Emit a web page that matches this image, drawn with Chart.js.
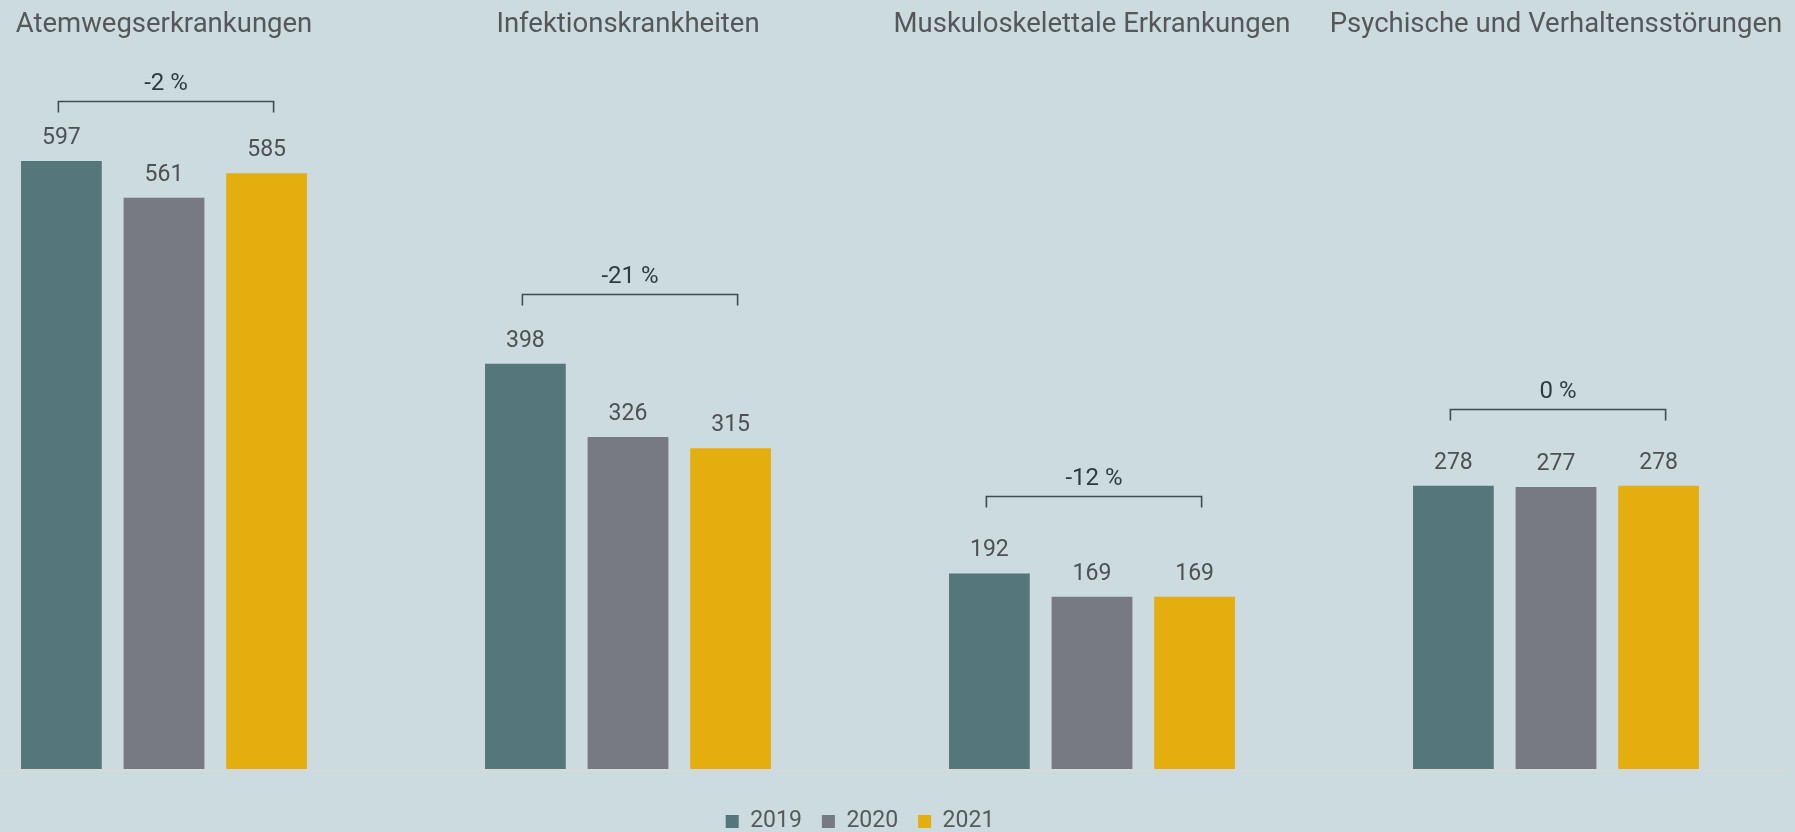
<!DOCTYPE html>
<html>
<head>
<meta charset="utf-8">
<title>Erkrankungen 2019-2021</title>
<script src="https://cdn.jsdelivr.net/npm/chart.js@4.4.0/dist/chart.umd.min.js"></script>
<style>
    html, body { margin: 0; padding: 0; background: #cbdbdf; }
    #chart-wrap { width: 1795px; height: 832px; }
</style>
</head>
<body>
<div id="chart-wrap"><canvas id="chart-diseases" width="1795" height="832"></canvas></div>
<script>
//------------------------------------------------ DATA ------------------------------------------------
const categories = ['Atemwegserkrankungen', 'Infektionskrankheiten', 'Muskuloskelettale Erkrankungen', 'Psychische und Verhaltensstörungen'];
const years = ['2019', '2020', '2021'];
const values_2019 = [597, 398, 192, 278];
const values_2020 = [561, 326, 169, 277];
const values_2021 = [585, 315, 169, 278];
const change_labels = ['-2 %', '-21 %', '-12 %', '0 %'];
const bracket_levels = [656, 466, 268, 353];   // value height of the bracket above each group
const bar_colors = ['#55767b', '#787a83', '#e3ae0e'];

Chart.defaults.font.family = 'Roboto';

//------------------------------------------- LABELS + BRACKETS -------------------------------------------
const annotatePlugin = {
    id: 'annotate',
    beforeDatasetsDraw(chart) {
        // thin light baseline over the whole width
        const ctx = chart.ctx;
        const y0 = chart.scales.y.getPixelForValue(0);
        ctx.save();
        ctx.strokeStyle = '#d6d8d9';
        ctx.lineWidth = 2;
        ctx.beginPath();
        ctx.moveTo(0, y0 + 1);
        ctx.lineTo(chart.width - 7, y0 + 1);
        ctx.stroke();
        ctx.restore();
    },
    afterDatasetsDraw(chart) {
        const ctx = chart.ctx;
        const yScale = chart.scales.y;
        ctx.save();

        // value labels above bars
        ctx.font = '23px Roboto';
        ctx.fillStyle = '#4f5051';
        ctx.textAlign = 'center';
        ctx.textBaseline = 'alphabetic';
        chart.data.datasets.forEach(function (ds, i) {
            const meta = chart.getDatasetMeta(i);
            meta.data.forEach(function (bar, j) {
                ctx.fillText(ds.data[j], bar.x, bar.y - 17);
            });
        });

        // brackets with change in percent
        const first = chart.getDatasetMeta(0).data;
        const last = chart.getDatasetMeta(2).data;
        ctx.strokeStyle = '#3d4e51';
        ctx.lineWidth = 1.6;
        ctx.fillStyle = '#2e3c3e';
        ctx.font = '24px Roboto';
        for (let j = 0; j < categories.length; j++) {
            const left = first[j].x - 3;
            const right = last[j].x + 7;
            const y = Math.round(yScale.getPixelForValue(bracket_levels[j])) + 0.5;
            ctx.beginPath();
            ctx.moveTo(left, y + 11);
            ctx.lineTo(left, y);
            ctx.lineTo(right, y);
            ctx.lineTo(right, y + 11);
            ctx.stroke();
            ctx.fillText(change_labels[j], (left + right) / 2, y - 12);
        }
        ctx.restore();
    }
};

//------------------------------------------------ CHART ------------------------------------------------
var diseases = document.getElementById('chart-diseases').getContext('2d');
var chart_diseases = new Chart(diseases, {
    type: 'bar',
    data: {
        labels: categories,
        datasets: [
            { label: years[0], data: values_2019, backgroundColor: bar_colors[0], borderWidth: 0, clip: false },
            { label: years[1], data: values_2020, backgroundColor: bar_colors[1], borderWidth: 0, clip: false },
            { label: years[2], data: values_2021, backgroundColor: bar_colors[2], borderWidth: 0, clip: false }
        ]
    },
    options: {
        responsive: false,
        animation: false,
        categoryPercentage: 0.6634,
        barPercentage: 0.787,
        layout: {
            padding: { left: 164, right: 239, top: 0, bottom: 0 }
        },
        scales: {
            x: {
                position: 'top',
                offset: false,
                grid: { display: false },
                border: { display: false },
                ticks: {
                    color: '#565758',
                    font: { size: 27.5 },
                    padding: 3,
                    maxRotation: 0,
                    autoSkip: false
                },
                afterFit: function (scale) { scale.height = 53; }
            },
            x2: {
                // spacer between baseline and legend
                type: 'linear',
                position: 'bottom',
                grid: { display: false },
                border: { display: false },
                ticks: { display: false },
                afterFit: function (scale) { scale.height = 21; }
            },
            y: {
                display: false,
                min: 0,
                max: 703
            }
        },
        plugins: {
            tooltip: { enabled: false },
            legend: {
                position: 'bottom',
                maxHeight: 42,
                labels: {
                    boxWidth: 13,
                    boxHeight: 13,
                    padding: 20,
                    color: '#58595a',
                    font: { size: 23 }
                }
            }
        }
    },
    plugins: [annotatePlugin]
});
</script>
</body>
</html>
